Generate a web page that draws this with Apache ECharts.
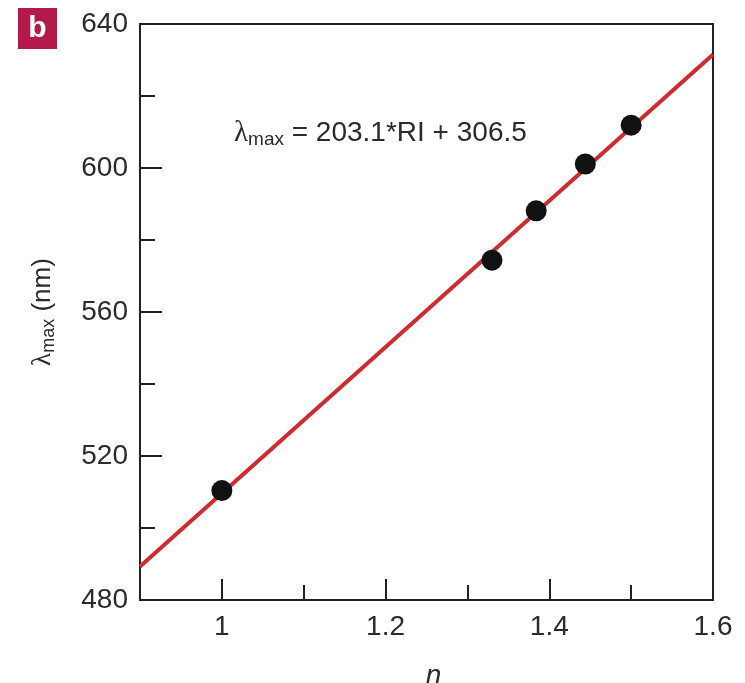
<!DOCTYPE html>
<html>
<head>
<meta charset="utf-8">
<script src="https://cdn.jsdelivr.net/npm/echarts@6/dist/echarts.min.js"></script>
<style>
  html, body { margin: 0; padding: 0; background: #fff; }
  #chart { width: 745px; height: 683px; }
</style>
</head>
<body>
<div id="chart"></div>
<script>
// measured points (refractive index vs peak wavelength)
var ri = [1.0, 1.33, 1.384, 1.444, 1.5];
var lambdaMax = [510.4, 574.4, 588.1, 601.1, 611.9];
// fitted line end points: λmax = 203.1*RI + 306.5
var fitX = [0.9, 1.6];
var fitY = [489.3, 631.5];
// ticks
var xLabels = [1, 1.2, 1.4, 1.6];
var xMajor = [1, 1.2, 1.4];
var xMinor = [1.1, 1.3, 1.5];
var yLabels = [480, 520, 560, 600, 640];
var yMajor = [520, 560, 600];
var yMinor = [500, 540, 580, 620];

var FONT = "'Liberation Sans Narrow', 'Liberation Sans', sans-serif";
var TXT = '#2b2b2b';

var myChart = echarts.init(document.getElementById('chart'));

function xAxisDef(ticks, len, showLabel) {
    return {
        type: 'value', min: 0.9, max: 1.6, position: 'bottom',
        axisLine: { show: showLabel, lineStyle: { color: '#222', width: 2 } },
        axisTick: { show: true, inside: true, length: len, customValues: ticks, lineStyle: { color: '#222', width: 2 } },
        axisLabel: { show: showLabel, customValues: xLabels, margin: 13, color: TXT, fontSize: 28, fontFamily: FONT },
        splitLine: { show: false },
        name: showLabel ? 'n' : '',
        nameLocation: 'middle', nameGap: 62,
        nameTextStyle: { color: TXT, fontSize: 28, fontStyle: 'italic', fontFamily: FONT, padding: [0, 0, 0, 14] }
    };
}

function yAxisDef(ticks, len, showLabel) {
    return {
        type: 'value', min: 480, max: 640, position: 'left',
        axisLine: { show: showLabel, lineStyle: { color: '#222', width: 2 } },
        axisTick: { show: true, inside: true, length: len, customValues: ticks, lineStyle: { color: '#222', width: 2 } },
        axisLabel: { show: showLabel, customValues: yLabels, margin: 12, color: TXT, fontSize: 28, fontFamily: FONT },
        splitLine: { show: false },
        name: showLabel ? '{l|λ}{s|max}{n| (nm)}' : '',
        nameLocation: 'middle', nameGap: 82, nameRotate: 90,
        nameTextStyle: {
            rich: {
                l: { fontSize: 27, fontFamily: "'Liberation Serif', serif", color: TXT, lineHeight: 30 },
                s: { fontSize: 18, fontFamily: FONT, color: TXT, verticalAlign: 'bottom', lineHeight: 14 },
                n: { fontSize: 26, fontFamily: FONT, color: TXT, lineHeight: 30 }
            }
        }
    };
}

var option = {
    animation: false,
    backgroundColor: '#fff',
    grid: {
        left: 140, right: 32, top: 24, bottom: 83,
        outerBoundsMode: 'none',
        show: true, borderColor: '#222', borderWidth: 2, backgroundColor: 'transparent'
    },
    xAxis: [xAxisDef(xMajor, 21, true), xAxisDef(xMinor, 15, false)],
    yAxis: [yAxisDef(yMajor, 22, true), yAxisDef(yMinor, 15, false)],
    graphic: [
        {
            type: 'rect', left: 18, top: 8,
            shape: { width: 39, height: 41 },
            style: { fill: '#b3194b' }
        },
        {
            type: 'text', x: 37.5, y: 29,
            style: { text: 'b', fill: '#fff', align: 'center', verticalAlign: 'middle', font: "bold 30px 'Liberation Sans', sans-serif" }
        },
        {
            type: 'text', left: 234, top: 119,
            style: {
                text: '{l|λ}{s|max}{n| = 203.1*RI + 306.5}',
                rich: {
                    l: { fontSize: 29, fontFamily: "'Liberation Serif', serif", fill: TXT, lineHeight: 32 },
                    s: { fontSize: 19, fontFamily: FONT, fill: TXT, verticalAlign: 'bottom', lineHeight: 12 },
                    n: { fontSize: 28, fontFamily: FONT, fill: TXT, lineHeight: 32 }
                }
            }
        }
    ],
    series: [
        {
            name: 'fit', type: 'line', xAxisIndex: 0, yAxisIndex: 0,
            data: fitX.map(function (x, i) { return [x, fitY[i]]; }),
            showSymbol: false, symbol: 'none',
            lineStyle: { color: '#cf2a2e', width: 4 },
            z: 2
        },
        {
            name: 'data', type: 'scatter', xAxisIndex: 0, yAxisIndex: 0,
            data: ri.map(function (x, i) { return [x, lambdaMax[i]]; }),
            symbolSize: 21,
            itemStyle: { color: '#111', opacity: 1 },
            z: 3
        }
    ]
};
myChart.setOption(option);
</script>
</body>
</html>
